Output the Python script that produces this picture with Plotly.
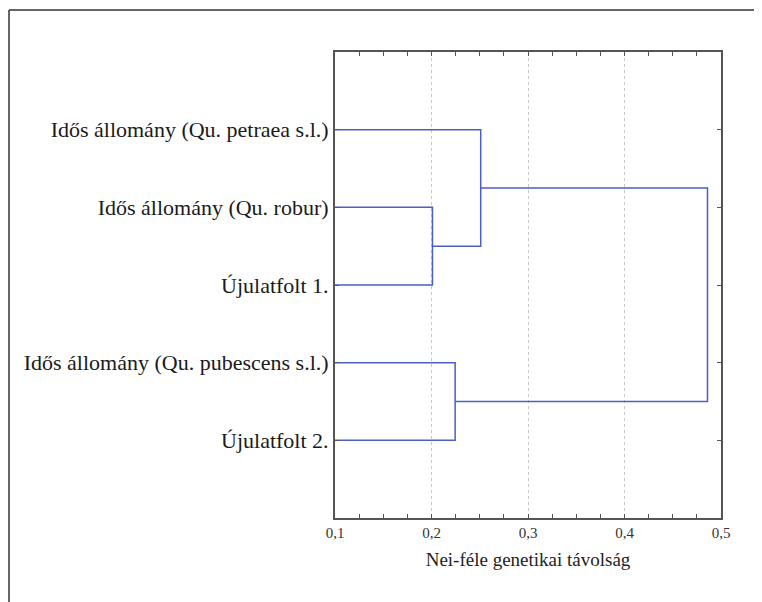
import plotly.graph_objects as go

# ---- data ----
leaf_labels = [
    "Idős állomány (Qu. petraea s.l.)",
    "Idős állomány (Qu. robur)",
    "Újulatfolt 1.",
    "Idős állomány (Qu. pubescens s.l.)",
    "Újulatfolt 2.",
]
# merges: (child a, child b, distance); indices >= 5 refer to earlier clusters
merge_a = [1, 3, 0, 7]
merge_b = [2, 4, 5, 6]
merge_dist = [0.201, 0.2245, 0.251, 0.486]

x_tick_vals = [0.1, 0.2, 0.3, 0.4, 0.5]
x_tick_text = ["0,1", "0,2", "0,3", "0,4", "0,5"]
x_title = "Nei-féle genetikai távolság"

# ---- build dendrogram segments ----
x_min, x_max = 0.1, 0.5
n = len(leaf_labels)
pos = {i: (x_min, i + 1) for i in range(n)}  # (distance, y position)
xs, ys = [], []
for k, (a, b, d) in enumerate(zip(merge_a, merge_b, merge_dist)):
    xa, ya = pos[a]
    xb, yb = pos[b]
    xs += [xa, d, d, xb, None]
    ys += [ya, ya, yb, yb, None]
    pos[n + k] = (d, (ya + yb) / 2)

line_color = "#4b5fc4"
fig = go.Figure()
fig.add_trace(go.Scatter(x=xs, y=ys, mode="lines",
                         line=dict(color=line_color, width=1.5),
                         hoverinfo="skip", showlegend=False))

axis_col = "#555555"
W, H = 754, 594
ml, mr, mt, mb = 327, 41, 44, 84
pw, ph = W - ml - mr, H - mt - mb
fx0 = (1 - ml) / pw
fy1 = (ph + mt - 2) / ph
frame = dict(color="#333333", width=1.5)
fig.update_layout(
    width=W, height=H,
    margin=dict(l=ml, r=mr, t=mt, b=mb),
    paper_bgcolor="white", plot_bgcolor="white",
    font=dict(family="Liberation Serif, Times New Roman, serif", color="#222222"),
    showlegend=False,
    xaxis=dict(
        range=[x_min, x_max],
        tickvals=x_tick_vals, ticktext=x_tick_text,
        tickfont=dict(size=15, color="#333333"),
        ticks="inside", ticklen=4, tickcolor=axis_col, tickwidth=1,
        minor=dict(dtick=0.025, ticks="inside", ticklen=4, tickcolor=axis_col, tickwidth=1, showgrid=False),
        showgrid=True, gridcolor="#c8c8c8", griddash="dot", gridwidth=1,
        showline=True, linecolor=axis_col, linewidth=2, mirror="ticks",
        zeroline=False,
        title=dict(text=x_title, font=dict(size=19, color="#222222"), standoff=13),
    ),
    yaxis=dict(
        range=[n + 1, 0],
        tickvals=list(range(1, n + 1)), ticktext=leaf_labels,
        tickfont=dict(size=22, color="#1a1a1a"),
        ticks="inside", ticklen=4, tickcolor=axis_col, tickwidth=1,
        showgrid=False, zeroline=False,
        showline=True, linecolor=axis_col, linewidth=2, mirror="ticks",
    ),
    shapes=[
        dict(type="line", xref="paper", yref="paper", x0=fx0, x1=fx0, y0=-1.0, y1=fy1,
             line=frame, layer="below"),
        dict(type="line", xref="paper", yref="paper", x0=fx0, x1=2.0, y0=fy1, y1=fy1,
             line=frame, layer="below"),
    ],
)

fig.write_html("out.html", config={"displayModeBar": False},
               post_script="document.body.style.overflow='hidden';")
